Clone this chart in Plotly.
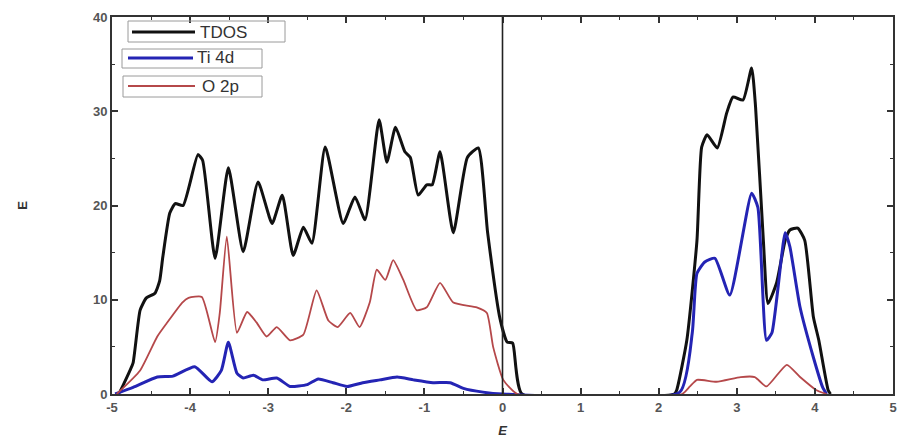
import plotly.graph_objects as go

# ---------------- data ----------------
tdos_x = [-4.95, -4.92, -4.77, -4.73, -4.64, -4.56, -4.45, -4.39, -4.35, -4.26, -4.19, -4.09,
          -3.90, -3.84, -3.68, -3.51, -3.32, -3.13, -2.95, -2.82, -2.68, -2.55, -2.44, -2.27,
          -2.04, -1.89, -1.76, -1.58, -1.48, -1.37, -1.25, -1.18, -1.08, -0.97, -0.90, -0.80,
          -0.63, -0.45, -0.31, -0.19, -0.03, 0.06, 0.13, 0.25,
          2.20, 2.23, 2.36, 2.49, 2.55, 2.62, 2.75, 2.87, 2.95, 3.08, 3.19, 3.24, 3.34, 3.40,
          3.51, 3.62, 3.68, 3.78, 3.87, 3.98, 4.05, 4.17, 4.20]
tdos_y = [0, 0, 2.5, 3.3, 8.9, 10.2, 10.7, 12.0, 14.5, 19.2, 20.2, 20.0,
          25.4, 24.8, 14.4, 24.0, 15.1, 22.5, 18.1, 21.1, 14.7, 17.7, 16.0, 26.2,
          18.1, 20.9, 18.5, 29.1, 24.6, 28.3, 25.7, 25.1, 21.1, 22.2, 22.2, 25.7,
          17.1, 25.1, 26.1, 17.1, 7.9, 5.5, 5.4, 0,
          0, 0.4, 5.7, 16.3, 26.2, 27.5, 26.1, 29.8, 31.5, 31.2, 34.6, 30.5, 16.3, 9.6,
          11.8, 16.3, 17.4, 17.6, 16.3, 8.2, 5.7, 0.4, 0]

ti4d_x = [-4.96, -4.73, -4.42, -4.22, -3.94, -3.72, -3.60, -3.51, -3.40, -3.32, -3.19, -3.07,
          -2.89, -2.72, -2.50, -2.36, -2.17, -1.99, -1.79, -1.57, -1.35, -1.14, -0.89, -0.67,
          -0.50, -0.25, 0.0,
          2.27, 2.43, 2.49, 2.59, 2.72, 2.91, 3.19, 3.27, 3.38, 3.45, 3.62, 3.68, 3.81, 3.98,
          4.10, 4.15]
ti4d_y = [0, 0.7, 1.8, 1.9, 2.9, 1.3, 2.5, 5.5, 2.2, 1.7, 2.0, 1.5,
          1.7, 0.8, 1.0, 1.6, 1.2, 0.8, 1.2, 1.5, 1.8, 1.5, 1.2, 1.2,
          0.6, 0.2, 0,
          0.2, 6.5, 12.8, 14.0, 14.4, 10.5, 21.3, 19.8, 5.7, 6.5, 17.1, 15.6, 9.2, 3.9,
          0.7, 0]

o2p_x = [-4.94, -4.64, -4.42, -4.30, -4.10, -4.02, -3.85, -3.68, -3.62, -3.53, -3.40, -3.27,
         -3.15, -3.02, -2.89, -2.72, -2.55, -2.38, -2.23, -2.11, -1.95, -1.83, -1.70, -1.61,
         -1.50, -1.40, -1.27, -1.10, -0.97, -0.80, -0.63, -0.33, -0.20, -0.12, 0.01, 0.19,
         2.30, 2.40, 2.49, 2.74, 3.05, 3.23, 3.38, 3.64, 3.81, 4.02, 4.15]
o2p_y = [0, 2.5, 6.1, 7.5, 9.7, 10.2, 10.3, 5.5, 8.6, 16.7, 6.5, 8.7,
         7.6, 6.1, 7.1, 5.7, 6.3, 11.0, 7.8, 7.1, 8.6, 7.1, 9.7, 13.2,
         12.1, 14.2, 12.1, 8.9, 9.2, 11.8, 9.7, 9.2, 8.6, 5.0, 1.5, 0,
         0, 0.8, 1.5, 1.3, 1.8, 1.8, 0.8, 3.1, 1.8, 0.4, 0]

series_names = ["TDOS", "Ti 4d", "O 2p"]
series_colors = ["#111111", "#2424b4", "#b5484a"]
series_widths = [3, 3, 1.8]
fermi_level = 0

x_ticks = [-5, -4, -3, -2, -1, 0, 1, 2, 3, 4, 5]
y_ticks = [0, 10, 20, 30, 40]

# ---------------- figure ----------------
fig = go.Figure()
for xs, ys, name, col, w in zip([tdos_x, ti4d_x, o2p_x], [tdos_y, ti4d_y, o2p_y],
                                series_names, series_colors, series_widths):
    fig.add_trace(go.Scatter(x=xs, y=ys, mode="lines", name=name,
                             line=dict(color=col, width=w, shape="spline", smoothing=0.5),
                             showlegend=False, cliponaxis=True))

# Fermi level line
fig.add_shape(type="line", x0=fermi_level, x1=fermi_level, y0=0, y1=1, xref="x", yref="paper",
              line=dict(color="#222222", width=1.6))

# manual legend: boxes, sample lines, labels (paper coords)
W, H = 902, 442
L, R, T, B = 112, 9, 17, 48
pw, ph = W - L - R, H - T - B

def px(x):
    return (x - L) / pw

def py(y):
    return (H - B - y) / ph

legend_boxes = [(128, 21, 285, 42), (122, 49, 262, 68), (123, 76, 262, 97)]
legend_lines = [(132, 195, 32), (128, 193, 58), (128, 195, 86)]
legend_text_x = [198, 195, 200]
for i, name in enumerate(series_names):
    x0, y0, x1, y1 = legend_boxes[i]
    fig.add_shape(type="rect", xref="paper", yref="paper",
                  x0=px(x0), x1=px(x1), y0=py(y1), y1=py(y0),
                  line=dict(color="#9a9a9a", width=1), fillcolor="rgba(255,255,255,0)")
    lx0, lx1, ly = legend_lines[i]
    fig.add_shape(type="line", xref="paper", yref="paper",
                  x0=px(lx0), x1=px(lx1), y0=py(ly), y1=py(ly),
                  line=dict(color=series_colors[i], width=series_widths[i]))
    fig.add_annotation(xref="paper", yref="paper", x=px(legend_text_x[i]), y=py(ly),
                       text=name, showarrow=False, xanchor="left", yanchor="middle",
                       font=dict(family="Arial", size=17, color="#333333"))

axis_common = dict(showline=True, linecolor="#333333", linewidth=2, mirror="ticks",
                   ticks="inside", ticklen=6, tickwidth=1.5, tickcolor="#333333",
                   showgrid=False, zeroline=False, automargin=False,
                   tickfont=dict(family="Arial", size=13, color="#555555", weight="bold"))

fig.update_xaxes(range=[-5, 5], tickvals=x_ticks, ticktext=[str(v) for v in x_ticks],
                 minor=dict(ticks="inside", ticklen=3, tickwidth=1, tickcolor="#333333", dtick=0.5),
                 title=dict(text="E", standoff=12,
                            font=dict(family="Arial", size=13, color="#333333", style="italic",
                                      weight="bold")),
                 **axis_common)
fig.update_yaxes(range=[0, 40], tickvals=y_ticks, ticktext=[str(v) for v in y_ticks],
                 minor=dict(ticks="inside", ticklen=3, tickwidth=1, tickcolor="#333333", dtick=5),
                 title=dict(text="E", standoff=62,
                            font=dict(family="Arial", size=13, color="#333333", weight="bold")),
                 **axis_common)

fig.update_layout(width=W, height=H, margin=dict(l=L, r=R, t=T, b=B),
                  paper_bgcolor="white", plot_bgcolor="white", showlegend=False)

fig.write_html("out.html")
